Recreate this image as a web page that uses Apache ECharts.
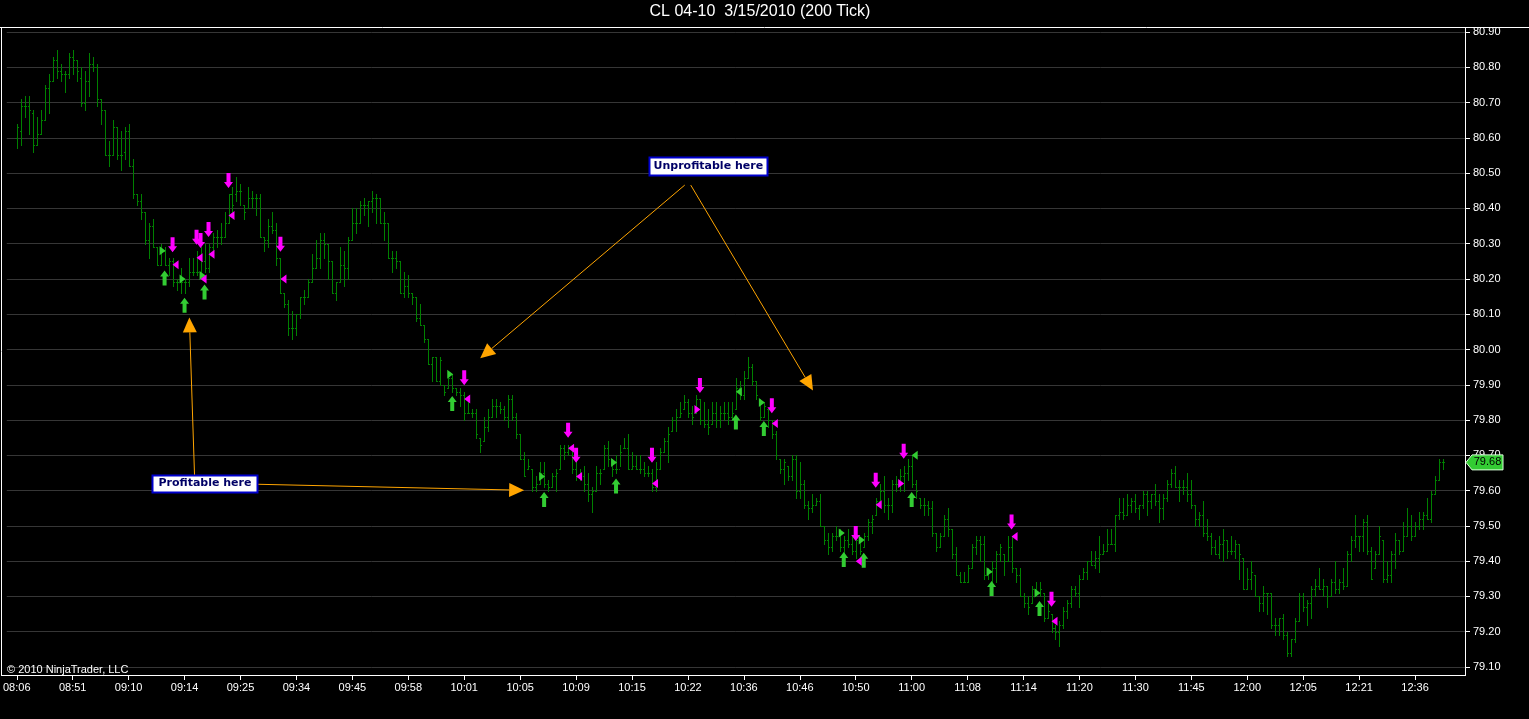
<!DOCTYPE html>
<html><head><meta charset="utf-8">
<script src="https://cdn.jsdelivr.net/npm/echarts@6/dist/echarts.min.js"></script>
<style>html,body{margin:0;padding:0;background:#000;overflow:hidden}#c{width:1529px;height:719px}</style>
</head><body><div id="c"></div>
<script>
// ---- tick labels (one every 14 bars) ----
const timeLabels = ['08:06','08:51','09:10','09:14','09:25','09:34','09:45','09:58','10:01','10:05','10:09','10:15','10:22','10:36','10:46','10:50','11:00','11:08','11:14','11:20','11:30','11:45','12:00','12:05','12:21','12:36'];
const barsPerLabel = 14;

// ---- 200-tick bars ----
const high = [
80.64,80.71,80.72,80.72,80.68,80.66,80.68,80.75,80.78,80.83,
80.85,80.81,80.79,80.84,80.85,80.82,80.80,80.79,80.84,80.83,
80.81,80.71,80.68,80.59,80.65,80.63,80.62,80.63,80.64,80.54,
80.44,80.44,80.39,80.36,80.37,80.29,80.30,80.29,80.26,80.26,
80.20,80.23,80.20,80.26,80.26,80.28,80.29,80.30,80.30,80.33,
80.34,80.36,80.39,80.44,80.46,80.49,80.47,80.41,80.46,80.45,
80.44,80.44,80.32,80.37,80.39,80.36,80.26,80.16,80.14,80.11,
80.10,80.15,80.17,80.20,80.27,80.31,80.33,80.33,80.30,80.25,
80.19,80.29,80.28,80.32,80.40,80.40,80.42,80.43,80.42,80.45,
80.44,80.43,80.39,80.36,80.28,80.28,80.25,80.22,80.21,80.16,
80.15,80.13,80.07,80.03,79.98,79.98,79.98,79.90,79.94,79.93,
79.89,79.89,79.88,79.85,79.83,79.83,79.75,79.81,79.83,79.86,
79.86,79.85,79.84,79.87,79.87,79.82,79.76,79.71,79.69,79.66,
79.64,79.68,79.68,79.63,79.65,79.66,79.73,79.73,79.73,79.72,
79.69,79.66,79.67,79.65,79.61,79.67,79.66,79.73,79.74,79.69,
79.70,79.73,79.75,79.76,79.71,79.70,79.70,79.68,79.67,79.66,
79.68,79.72,79.75,79.78,79.81,79.83,79.85,79.87,79.86,79.84,
79.87,79.86,79.85,79.83,79.85,79.85,79.84,79.85,79.85,79.85,
79.92,79.91,79.94,79.98,79.96,79.91,79.86,79.85,79.83,79.80,
79.77,79.69,79.69,79.67,79.70,79.70,79.68,79.63,79.57,79.59,
79.58,79.59,79.50,79.48,79.48,79.50,79.49,79.47,79.49,79.47,
79.47,79.46,79.48,79.52,79.53,79.58,79.62,79.64,79.58,79.63,
79.64,79.66,79.67,79.69,79.70,79.63,79.58,79.58,79.57,79.57,
79.48,79.48,79.53,79.55,79.49,79.44,79.37,79.37,79.39,79.45,
79.47,79.47,79.47,79.38,79.40,79.43,79.45,79.42,79.47,79.47,
79.38,79.38,79.31,79.30,79.33,79.34,79.34,79.31,79.28,79.25,
79.22,79.23,79.27,79.29,79.33,79.33,79.36,79.38,79.40,79.43,
79.43,79.47,79.45,79.49,79.49,79.53,79.58,79.58,79.59,79.58,
79.59,79.56,79.60,79.60,79.59,79.62,79.59,79.59,79.63,79.66,
79.67,79.63,79.63,79.65,79.63,79.56,79.54,79.57,79.52,79.48,
79.46,79.47,79.49,79.46,79.47,79.46,79.45,79.41,79.38,79.40,
79.36,79.30,79.33,79.31,79.31,79.24,79.24,79.25,79.20,79.18,
79.24,79.31,79.31,79.29,79.33,79.35,79.38,79.35,79.33,79.35,
79.40,79.35,79.38,79.43,79.47,79.53,79.47,79.52,79.53,79.44,
79.43,79.50,79.46,79.40,79.43,79.48,79.46,79.51,79.55,79.53,
79.51,79.54,79.54,79.58,79.60,79.64,79.69,79.69];
const low = [
80.57,80.58,80.66,80.61,80.56,80.58,80.61,80.65,80.67,80.76,
80.77,80.76,80.73,80.77,80.78,80.76,80.69,80.68,80.72,80.79,
80.69,80.64,80.55,80.52,80.55,80.54,80.51,80.54,80.52,80.43,
80.41,80.37,80.30,80.26,80.29,80.24,80.24,80.24,80.21,80.18,
80.17,80.16,80.16,80.18,80.21,80.21,80.21,80.22,80.22,80.27,
80.29,80.30,80.32,80.36,80.39,80.42,80.41,80.37,80.40,80.40,
80.38,80.32,80.28,80.29,80.33,80.24,80.16,80.12,80.04,80.03,
80.04,80.09,80.13,80.15,80.19,80.23,80.23,80.26,80.20,80.16,
80.14,80.19,80.18,80.20,80.31,80.33,80.36,80.38,80.35,80.39,
80.36,80.36,80.31,80.26,80.22,80.23,80.16,80.15,80.15,80.13,
80.08,80.07,80.02,79.96,79.91,79.91,79.90,79.87,79.89,79.88,
79.87,79.84,79.80,79.82,79.81,79.75,79.71,79.74,79.77,79.81,
79.81,79.82,79.80,79.78,79.80,79.75,79.69,79.64,79.66,79.60,
79.60,79.62,79.61,79.60,79.61,79.60,79.66,79.69,79.70,79.65,
79.63,79.63,79.60,79.57,79.54,79.60,79.62,79.66,79.67,79.64,
79.65,79.67,79.72,79.66,79.66,79.66,79.65,79.64,79.64,79.60,
79.60,79.66,79.71,79.68,79.77,79.77,79.81,79.83,79.81,79.79,
79.82,79.79,79.78,79.76,79.79,79.78,79.78,79.80,79.79,79.80,
79.83,79.86,79.86,79.92,79.90,79.86,79.80,79.81,79.78,79.75,
79.69,79.65,79.62,79.63,79.63,79.58,79.58,79.55,79.52,79.54,
79.56,79.50,79.45,79.42,79.43,79.46,79.43,79.42,79.44,79.42,
79.41,79.42,79.44,79.46,79.48,79.53,79.56,79.54,79.52,79.54,
79.60,79.60,79.60,79.63,79.61,79.58,79.55,79.53,79.53,79.47,
79.43,79.44,79.47,79.47,79.41,79.36,79.34,79.34,79.34,79.38,
79.42,79.40,79.35,79.35,79.34,79.34,79.40,79.36,79.40,79.37,
79.34,79.30,79.27,79.25,79.28,79.30,79.30,79.23,79.24,79.20,
79.18,79.16,79.21,79.24,79.27,79.30,79.27,79.35,79.35,79.39,
79.38,79.37,79.42,79.43,79.45,79.43,79.52,79.52,79.53,79.54,
79.54,79.52,79.55,79.53,79.55,79.56,79.51,79.52,79.57,79.61,
79.61,79.57,79.59,79.57,79.55,79.50,79.50,79.47,79.46,79.42,
79.42,79.41,79.40,79.41,79.42,79.41,79.35,79.32,79.32,79.32,
79.30,79.26,79.26,79.25,79.21,79.19,79.19,79.18,79.13,79.13,
79.17,79.23,79.26,79.22,79.24,79.30,79.32,79.30,79.27,79.30,
79.31,79.31,79.32,79.33,79.40,79.44,79.43,79.43,79.42,79.35,
79.38,79.42,79.34,79.34,79.34,79.38,79.42,79.43,79.47,79.46,
79.47,79.49,79.49,79.52,79.51,79.59,79.63,79.66];
const open = [
80.60,80.62,80.69,80.69,80.67,80.58,80.61,80.65,80.74,80.76,
80.82,80.79,80.78,80.78,80.83,80.82,80.77,80.70,80.76,80.81,
80.80,80.71,80.68,80.55,80.55,80.63,80.55,80.56,80.62,80.52,
80.44,80.42,80.39,80.31,80.35,80.29,80.24,80.28,80.24,80.25,
80.19,80.19,80.19,80.19,80.22,80.22,80.22,80.25,80.23,80.29,
80.32,80.32,80.32,80.36,80.44,80.44,80.45,80.41,80.40,80.43,
80.43,80.43,80.32,80.31,80.35,80.34,80.26,80.16,80.13,80.06,
80.06,80.10,80.15,80.15,80.19,80.23,80.26,80.31,80.30,80.25,
80.16,80.19,80.24,80.23,80.31,80.36,80.36,80.41,80.41,80.42,
80.43,80.43,80.36,80.36,80.26,80.26,80.25,80.16,80.18,80.16,
80.15,80.09,80.07,80.03,79.96,79.98,79.91,79.90,79.89,79.92,
79.89,79.88,79.87,79.82,79.82,79.82,79.75,79.74,79.78,79.81,
79.84,79.84,79.83,79.81,79.86,79.81,79.76,79.69,79.66,79.66,
79.61,79.62,79.65,79.62,79.61,79.64,79.66,79.72,79.71,79.72,
79.66,79.64,79.64,79.62,79.59,79.60,79.65,79.66,79.72,79.69,
79.66,79.66,79.72,79.72,79.66,79.67,79.66,79.66,79.65,79.65,
79.61,79.66,79.71,79.74,79.77,79.80,79.81,79.83,79.85,79.82,
79.82,79.86,79.80,79.79,79.79,79.82,79.80,79.82,79.82,79.81,
79.83,79.89,79.87,79.92,79.95,79.91,79.86,79.81,79.83,79.80,
79.76,79.69,79.66,79.67,79.64,79.69,79.60,79.62,79.56,79.55,
79.56,79.57,79.50,79.46,79.44,79.47,79.47,79.44,79.46,79.45,
79.43,79.46,79.44,79.47,79.51,79.53,79.57,79.60,79.56,79.56,
79.62,79.62,79.64,79.65,79.67,79.62,79.58,79.56,79.56,79.55,
79.48,79.44,79.47,79.52,79.49,79.42,79.36,79.34,79.34,79.38,
79.44,79.46,79.45,79.36,79.37,79.38,79.42,79.42,79.40,79.44,
79.38,79.36,79.30,79.28,79.28,79.32,79.31,79.31,79.24,79.25,
79.21,79.20,79.22,79.26,79.28,79.32,79.31,79.35,79.37,79.40,
79.39,79.41,79.42,79.43,79.45,79.45,79.53,79.54,79.53,79.56,
79.57,79.55,79.56,79.59,79.57,79.59,79.57,79.55,79.58,79.62,
79.65,79.61,79.61,79.61,79.59,79.56,79.52,79.53,79.48,79.47,
79.44,79.42,79.45,79.46,79.43,79.43,79.45,79.41,79.32,79.35,
79.36,79.30,79.28,79.31,79.31,79.22,79.22,79.24,79.19,79.14,
79.18,79.23,79.30,79.27,79.28,79.32,79.33,79.32,79.33,79.30,
79.34,79.32,79.34,79.33,79.42,79.46,79.47,79.47,79.51,79.43,
79.38,79.42,79.46,79.35,79.36,79.42,79.46,79.43,79.47,79.50,
79.47,79.50,79.52,79.53,79.52,79.59,79.63,79.68];
const close = [
80.63,80.69,80.69,80.68,80.58,80.61,80.65,80.74,80.76,80.82,
80.79,80.78,80.78,80.83,80.82,80.79,80.70,80.76,80.81,80.80,
80.71,80.68,80.55,80.55,80.63,80.55,80.55,80.62,80.52,80.44,
80.42,80.39,80.31,80.35,80.29,80.24,80.28,80.24,80.25,80.19,
80.19,80.19,80.19,80.22,80.22,80.22,80.25,80.23,80.29,80.32,
80.32,80.32,80.36,80.44,80.41,80.45,80.45,80.39,80.43,80.43,
80.43,80.32,80.31,80.35,80.34,80.26,80.16,80.13,80.06,80.06,
80.10,80.15,80.15,80.19,80.23,80.26,80.31,80.30,80.25,80.16,
80.19,80.24,80.23,80.31,80.36,80.36,80.41,80.41,80.42,80.43,
80.43,80.36,80.36,80.26,80.26,80.25,80.16,80.18,80.16,80.15,
80.09,80.07,80.03,79.96,79.98,79.91,79.97,79.88,79.92,79.89,
79.88,79.87,79.82,79.82,79.82,79.76,79.73,79.78,79.81,79.84,
79.84,79.83,79.81,79.86,79.81,79.76,79.69,79.64,79.67,79.61,
79.62,79.65,79.62,79.61,79.64,79.65,79.72,79.71,79.72,79.66,
79.64,79.64,79.62,79.59,79.60,79.65,79.65,79.72,79.69,79.66,
79.66,79.71,79.72,79.66,79.67,79.66,79.66,79.65,79.65,79.61,
79.66,79.71,79.74,79.76,79.80,79.81,79.82,79.85,79.82,79.81,
79.86,79.80,79.79,79.78,79.82,79.80,79.82,79.82,79.81,79.82,
79.89,79.87,79.92,79.95,79.91,79.87,79.81,79.84,79.80,79.76,
79.70,79.66,79.68,79.64,79.69,79.60,79.62,79.56,79.55,79.56,
79.57,79.50,79.46,79.44,79.47,79.47,79.44,79.46,79.45,79.43,
79.46,79.43,79.47,79.51,79.52,79.57,79.60,79.56,79.56,79.62,
79.62,79.64,79.65,79.67,79.62,79.60,79.56,79.56,79.55,79.48,
79.44,79.47,79.52,79.49,79.42,79.36,79.34,79.34,79.38,79.44,
79.46,79.45,79.36,79.37,79.38,79.42,79.44,79.40,79.44,79.38,
79.36,79.30,79.28,79.27,79.32,79.31,79.32,79.24,79.26,79.21,
79.20,79.22,79.26,79.28,79.32,79.31,79.35,79.37,79.40,79.39,
79.41,79.42,79.43,79.45,79.45,79.53,79.54,79.53,79.56,79.57,
79.55,79.56,79.59,79.57,79.59,79.57,79.55,79.58,79.62,79.65,
79.61,79.61,79.61,79.59,79.56,79.52,79.53,79.48,79.47,79.44,
79.42,79.45,79.46,79.43,79.43,79.45,79.42,79.32,79.35,79.37,
79.30,79.28,79.31,79.31,79.22,79.22,79.24,79.19,79.14,79.18,
79.23,79.30,79.27,79.28,79.32,79.33,79.32,79.33,79.30,79.34,
79.32,79.34,79.33,79.42,79.46,79.47,79.47,79.51,79.43,79.35,
79.42,79.47,79.35,79.36,79.42,79.46,79.43,79.47,79.50,79.47,
79.50,79.52,79.53,79.52,79.59,79.63,79.68,79.68];

// ---- trade markers: [bar index, price] ----
const buyArrows   = [[37,80.224],[42,80.147],[47,80.184],[109,79.868],[132,79.596],[150,79.634],[180,79.816],[187,79.797],[207,79.426],[212,79.424],[224,79.596],[244,79.344],[256,79.287]];
const sellArrows  = [[39,80.276],[45,80.297],[46,80.288],[48,80.319],[53,80.458],[66,80.277],[112,79.899],[138,79.750],[140,79.679],[159,79.679],[171,79.877],[189,79.819],[210,79.457],[215,79.608],[222,79.690],[249,79.490],[259,79.271]];
const greenRight  = [[36,80.28],[41,80.20],[46,80.21],[108,79.93],[131,79.64],[149,79.68],[186,79.85],[206,79.48],[211,79.46],[243,79.37],[255,79.31]];
const greenLeft   = [[181,79.88],[225,79.70]];
const magentaLeft = [[40,80.24],[46,80.26],[47,80.20],[49,80.27],[54,80.38],[67,80.20],[113,79.86],[139,79.72],[141,79.64],[160,79.62],[190,79.79],[211,79.40],[216,79.56],[250,79.47],[260,79.23]];
const magentaRight= [[170,79.83],[221,79.62]];

// ---- annotations: anchors in [bar index, price] ----
const notes = [
  {text:'Unprofitable here', at:[173.1, 80.520], w:118, h:18},
  {text:'Profitable here',   at:[47.1, 79.621],  w:105, h:17}
];
const pointers = [
  {from:[167.2, 80.466], to:[116.0, 79.975]},
  {from:[168.7, 80.466], to:[199.3, 79.884]},
  {from:[44.5, 79.643],  to:[43.2, 80.091]},
  {from:[60.2, 79.618],  to:[127.0, 79.601]}
];

const LEAD = 2, TRAIL = 5;
const nBars = high.length;
const categories = [];
for (let s = 0; s < LEAD + nBars + TRAIL; s++) {
  const b = s - LEAD;
  const k = b / barsPerLabel;
  categories.push(b >= 0 && b % barsPerLabel === 0 && timeLabels[k] ? timeLabels[k] : '');
}
const barData = high.map((h, i) => [i + LEAD, open[i], h, low[i], close[i]]);

const FONT = 'Arial, "Liberation Sans", sans-serif';
const UP = 'path://M4.5,0 L9,6 L6.5,6 L6.5,15 L2.5,15 L2.5,6 L0,6 Z';
const DOWN = 'path://M2.5,0 L6.5,0 L6.5,9 L9,9 L4.5,15 L0,9 L2.5,9 Z';
const TRI_R = 'path://M0,0 L6,4.5 L0,9 Z';
const TRI_L = 'path://M6,0 L0,4.5 L6,9 Z';

function markers(data, symbol, size, offset, color) {
  return {type:'scatter', data:data.map(d => [d[0] + LEAD, d[1]]), symbol, symbolSize:size,
    symbolOffset:offset, itemStyle:{color, opacity:1}, silent:true, z:4, animation:false};
}

const chart = echarts.init(document.getElementById('c'), null, {renderer:'canvas'});
const option = {
  backgroundColor:'#000',
  animation:false,
  grid:{left:4, right:64, top:32, bottom:52},
  xAxis:{
    type:'category', data:categories, boundaryGap:true, offset:8,
    axisLine:{show:true, lineStyle:{color:'#fff', width:1}},
    axisTick:{show:true, length:5, alignWithLabel:true, interval:(i, v) => v !== '', lineStyle:{color:'#fff'}},
    axisLabel:{show:true, interval:(i, v) => v !== '', color:'#fff', fontSize:11, fontFamily:FONT, margin:7},
    splitLine:{show:false}
  },
  yAxis:{
    type:'value', position:'right', min:79.1, max:80.9, interval:0.1,
    axisLine:{show:true, lineStyle:{color:'#fff'}},
    axisTick:{show:true, length:5, lineStyle:{color:'#fff'}},
    axisLabel:{color:'#fff', fontSize:11, fontFamily:FONT, margin:8, formatter:v => v.toFixed(2)},
    splitLine:{show:true, lineStyle:{color:'#363636', width:1}}
  },
  series:[
    {type:'custom', data:barData, encode:{x:0, y:[2,3]}, silent:true, z:2,
     renderItem:function(params, api){
       const x = api.value(0);
       const pH = api.coord([x, api.value(2)]), pL = api.coord([x, api.value(3)]);
       const pO = api.coord([x, api.value(1)]), pC = api.coord([x, api.value(4)]);
       const cx = Math.round(pH[0]);
       const yT = Math.round(pH[1]), yB = Math.round(pL[1]);
       const st = {fill:'#008000'};
       return {type:'group', children:[
         {type:'rect', shape:{x:cx, y:yT, width:1, height:Math.max(1, yB - yT + 1)}, style:st},
         {type:'rect', shape:{x:cx-1, y:Math.round(pO[1]), width:1, height:1}, style:st},
         {type:'rect', shape:{x:cx+1, y:Math.round(pC[1]), width:1, height:1}, style:st}
       ]};
     }},
    markers(buyArrows, UP, [9,15], [0,7.5], '#33cc33'),
    markers(sellArrows, DOWN, [9,15], [0,-7.5], '#ff00ff'),
    markers(greenRight, TRI_R, [6,9], [2,0], '#33cc33'),
    markers(greenLeft, TRI_L, [6,9], [-1,0], '#33cc33'),
    markers(magentaLeft, TRI_L, [6,9], [-1,0], '#ff00ff'),
    markers(magentaRight, TRI_R, [6,9], [1.5,0], '#ff00ff')
  ]
};
chart.setOption(option);

// ---- pixel helpers for annotations ----
const x0 = chart.convertToPixel({xAxisIndex:0}, LEAD);
const x1 = chart.convertToPixel({xAxisIndex:0}, LEAD + 1);
function toPx(p){ return [x0 + (x1 - x0) * p[0], chart.convertToPixel({yAxisIndex:0}, p[1])]; }

const g = [];
// frame
g.push({type:'line', shape:{x1:0, y1:27.5, x2:1529, y2:27.5}, style:{stroke:'#fff', lineWidth:1}, z:10});
g.push({type:'line', shape:{x1:1.5, y1:27, x2:1.5, y2:675.5}, style:{stroke:'#fff', lineWidth:1}, z:10});
g.push({type:'line', shape:{x1:1465.5, y1:27, x2:1465.5, y2:675.5}, style:{stroke:'#fff', lineWidth:1}, z:10});
g.push({type:'line', shape:{x1:1, y1:675.5, x2:1466, y2:675.5}, style:{stroke:'#fff', lineWidth:1}, z:10});
// title
g.push({type:'text', x:760, y:12, style:{text:'CL 04-10  3/15/2010 (200 Tick)', fill:'#fff', fontSize:16, fontFamily:FONT, align:'center', verticalAlign:'middle'}, z:10});
// copyright
g.push({type:'text', x:7, y:669.5, style:{text:'\u00a9 2010 NinjaTrader, LLC', fill:'#fff', fontSize:11, fontFamily:FONT, align:'left', verticalAlign:'middle'}, z:10});
// pointers
pointers.forEach(pt => {
  const a = toPx(pt.from), b = toPx(pt.to);
  const dx = b[0]-a[0], dy = b[1]-a[1], L = Math.hypot(dx, dy);
  const ux = dx/L, uy = dy/L, nx = -uy, ny = ux;
  const hl = 15, hw = 7;
  const bx = b[0]-ux*hl, by = b[1]-uy*hl;
  g.push({type:'line', shape:{x1:a[0], y1:a[1], x2:bx, y2:by}, style:{stroke:'#ffa500', lineWidth:1}, z:11});
  g.push({type:'polygon', shape:{points:[[b[0],b[1]],[bx+nx*hw, by+ny*hw],[bx-nx*hw, by-ny*hw]]}, style:{fill:'#ffa500'}, z:11});
});
// note boxes
notes.forEach(n => {
  const c = toPx(n.at);
  g.push({type:'rect', shape:{x:Math.round(c[0]-n.w/2)+0.5, y:Math.round(c[1]-n.h/2)+0.5, width:n.w, height:n.h}, style:{fill:'#ffffff', stroke:'#0000cc', lineWidth:2}, z:12});
  g.push({type:'text', x:c[0], y:c[1], style:{text:n.text, fill:'#000066', fontSize:11, fontWeight:'bold', fontFamily:'Tahoma, "DejaVu Sans", Arial, sans-serif', align:'center', verticalAlign:'middle'}, z:13});
});
// last price tag
const last = close[close.length - 1];
const ty = chart.convertToPixel({yAxisIndex:0}, last);
g.push({type:'polygon', shape:{points:[[1466,ty],[1472,ty-7.5],[1503,ty-7.5],[1503,ty+7.5],[1472,ty+7.5]]}, style:{fill:'#33cc33', stroke:'#d8ffd8', lineWidth:1}, z:12});
g.push({type:'text', x:1487.5, y:ty, style:{text:last.toFixed(2), fill:'#000', fontSize:11, fontFamily:FONT, align:'center', verticalAlign:'middle'}, z:13});

chart.setOption({graphic:g});
</script>
</body></html>
